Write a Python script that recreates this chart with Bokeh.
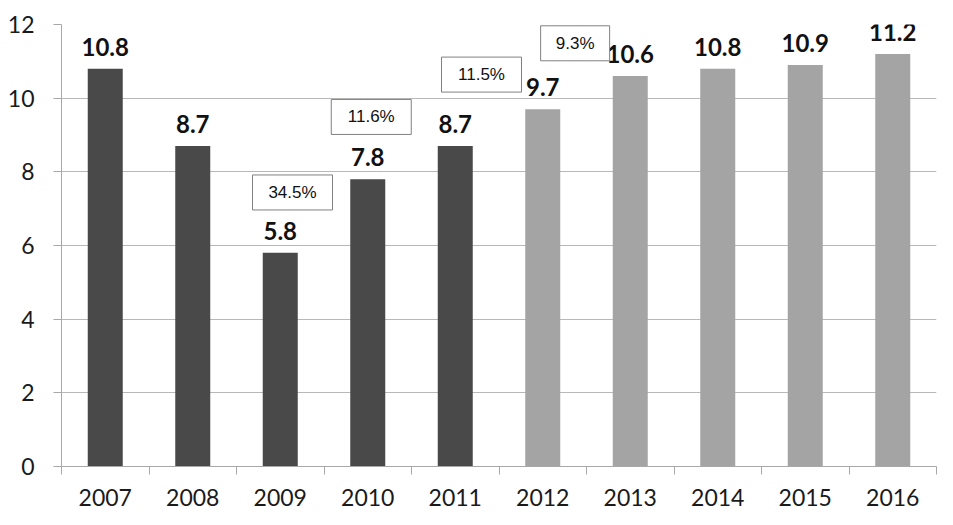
from bokeh.plotting import figure
from bokeh.models import Range1d, FixedTicker, ColumnDataSource
from bokeh.core.properties import value
from bokeh.embed import file_html
from bokeh.resources import INLINE

# ---- data ----
years = ["2007", "2008", "2009", "2010", "2011", "2012", "2013", "2014", "2015", "2016"]
values = [10.8, 8.7, 5.8, 7.8, 8.7, 9.7, 10.6, 10.8, 10.9, 11.2]
is_forecast = [False, False, False, False, False, True, True, True, True, True]
y_ticks = [0, 2, 4, 6, 8, 10, 12]

growth_labels = ["34.5%", "11.6%", "11.5%", "9.3%"]
growth_years = ["2009", "2010", "2011", "2012"]

# annotation box placement (offset from year slot centre, height on value axis, box width px)
box_dx = [0.14, 0.04, 0.30, 0.37]
box_y = [7.44, 9.49, 10.64, 11.49]
box_w = [80, 80, 80, 69]

# ---- figure ----
p = figure(width=945, height=517, output_backend="svg", toolbar_location=None,
           x_range=Range1d(0, len(years)), y_range=Range1d(0, 12),
           min_border_left=61, min_border_right=9, min_border_top=24, min_border_bottom=51)
p.outline_line_color = None
p.background_fill_color = "white"
p.border_fill_color = "white"

centers = [i + 0.5 for i in range(len(years))]
dark = "#494949"
light = "#a4a4a4"
src = ColumnDataSource(dict(
    x=centers, top=values,
    color=[light if f else dark for f in is_forecast],
    label=[f"{v:.1f}" for v in values],
))

p.vbar(x="x", top="top", width=0.4, bottom=0, source=src,
       fill_color="color", line_color=None)

p.text(x="x", y="top", text="label", source=src, y_offset=-22,
       text_align="center", text_baseline="alphabetic",
       text_font=value("Lato"), text_font_style="bold", text_font_size="24px",
       text_color="#111111")

# growth boxes
bx = [centers[years.index(y)] + d for y, d in zip(growth_years, box_dx)]
bsrc = ColumnDataSource(dict(x=bx, y=box_y, w=box_w, t=growth_labels))
p.rect(x="x", y="y", width="w", height=35, width_units="screen", height_units="screen",
       source=bsrc, fill_color="white", line_color="#808080", line_width=1)
p.text(x="x", y="y", text="t", source=bsrc, text_align="center", text_baseline="middle",
       text_font=value("Liberation Sans"), text_font_size="17px", text_color="#111111")

# grid
p.xgrid.visible = False
p.ygrid.ticker = FixedTicker(ticks=y_ticks)
p.ygrid.grid_line_color = "#b8b8b8"
p.ygrid.grid_line_width = 1

# y axis
p.yaxis.ticker = FixedTicker(ticks=y_ticks)
p.yaxis.axis_line_color = "#a8a8a8"
p.yaxis.major_tick_line_color = "#a8a8a8"
p.yaxis.major_tick_out = 8
p.yaxis.major_tick_in = 0
p.yaxis.minor_tick_out = 0
p.yaxis.major_label_standoff = 19
p.yaxis.major_label_text_font = "Lato"
p.yaxis.major_label_text_font_size = "23px"
p.yaxis.major_label_text_color = "#1a1a1a"

# x axis: labels at slot centres, ticks at slot boundaries
p.xaxis.ticker = FixedTicker(ticks=centers, minor_ticks=list(range(len(years) + 1)))
p.xaxis.major_label_overrides = {c: y for c, y in zip(centers, years)}
p.xaxis.axis_line_color = "#a8a8a8"
p.xaxis.major_tick_out = 0
p.xaxis.major_tick_in = 0
p.xaxis.minor_tick_out = 8
p.xaxis.minor_tick_in = 0
p.xaxis.minor_tick_line_color = "#a8a8a8"
p.xaxis.major_label_standoff = 14
p.xaxis.major_label_text_font = "Lato"
p.xaxis.major_label_text_font_size = "23px"
p.xaxis.major_label_text_color = "#1a1a1a"

open("out.html", "w").write(file_html(p, INLINE))
